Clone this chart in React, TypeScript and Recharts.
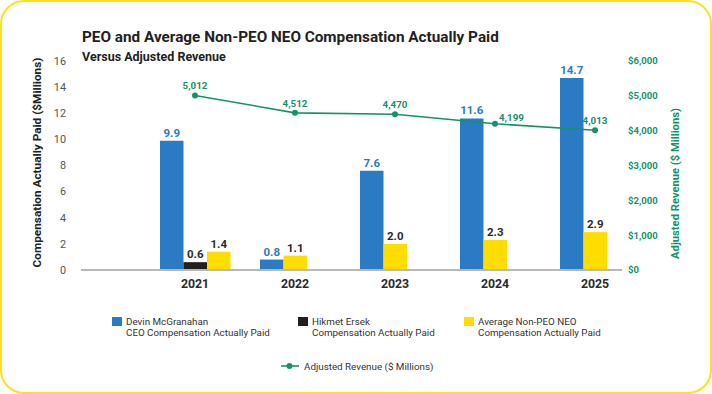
import React from 'react';
import { ComposedChart, Bar, Line, XAxis, YAxis, Cell, LabelList, Label } from 'recharts';

const years = ['2021', '2022', '2023', '2024', '2025'];
const ceoCap = [9.9, 0.8, 7.6, 11.6, 14.7];
const ersekCap: (number | null)[] = [0.6, null, null, null, null];
const neoCap = [1.4, 1.1, 2.0, 2.3, 2.9];
const revenue = [5012, 4512, 4470, 4199, 4013];
const leftTicks = [0, 2, 4, 6, 8, 10, 12, 14, 16];
const rightTicks = [0, 1000, 2000, 3000, 4000, 5000, 6000];

const BLUE = '#2a7bc4';
const BLACK = '#231f20';
const YELLOW = '#ffdd00';
const GREEN = '#14936a';
const FONT = 'Roboto, "Noto Sans", sans-serif';

// line label nudges (style only)
const revLabelDx = [0, 0, 0, 4, 0];
const revLabelDy = [-6, -6, -6, -3, -6];

const data = years.map((y, i) => ({
  year: y,
  ceo: ceoCap[i],
  mid: ersekCap[i] != null ? ersekCap[i] : neoCap[i],
  midIsErsek: ersekCap[i] != null,
  right: ersekCap[i] != null ? neoCap[i] : null,
  revenue: revenue[i],
}));

const fmt1 = (v: any) => (v == null ? '' : Number(v).toFixed(1));

const RevLabel = (props: any) => {
  const { x, y, value, index } = props;
  if (value == null) return null;
  const dx = revLabelDx[index] || 0;
  const dy = revLabelDy[index] || -6;
  return (
    <text
      x={x + dx}
      y={y + dy}
      textAnchor={dx ? 'start' : 'middle'}
      fill={GREEN}
      fontSize={9.8}
      fontWeight={700}
      fontFamily={FONT}
    >
      {Number(value).toLocaleString('en-US')}
    </text>
  );
};

const legendBars = [
  { color: BLUE, lines: ['Devin McGranahan', 'CEO Compensation Actually Paid'], left: 112 },
  { color: BLACK, lines: ['Hikmet Ersek', 'Compensation Actually Paid'], left: 298 },
  { color: YELLOW, lines: ['Average Non-PEO NEO', 'Compensation Actually Paid'], left: 464 },
];

const AxisTitle = ({ cx, cy, text, color, size }: any) => (
  <text
    x={cx}
    y={cy}
    transform={`rotate(-90 ${cx} ${cy})`}
    textAnchor="middle"
    dominantBaseline="central"
    fill={color}
    fontSize={size}
    fontWeight={700}
    fontFamily={FONT}
  >
    {text}
  </text>
);

export default function App() {
  return (
    <div style={{ position: 'absolute', left: 0, top: 0, width: 712, height: 394, background: '#fff', fontFamily: FONT }}>
      <ComposedChart
        width={712}
        height={394}
        data={data}
        margin={{ top: 61, right: 30, bottom: 94, left: 0 }}
        barGap={0}
        barSize={23.5}
      >
        <XAxis
          dataKey="year"
          axisLine={{ stroke: '#b8b8b8', strokeWidth: 2 }}
          tickLine={false}
          tickSize={0}
          tickMargin={9}
          height={30}
          padding={{ left: 64, right: -23 }}
          tick={{ fill: '#2b2b2b', fontSize: 12.3, fontWeight: 700, fontFamily: FONT }}
        />
        <YAxis
          yAxisId="left"
          domain={[0, 16]}
          ticks={leftTicks}
          width={81}
          axisLine={false}
          tickLine={false}
          tickSize={0}
          tickMargin={15}
          interval={0}
          tick={{ fill: '#555', fontSize: 10.8, fontFamily: FONT }}
        >
          <Label
            content={(p: any) => (
              <AxisTitle
                cx={37}
                cy={p.viewBox.y + p.viewBox.height / 2 - 3}
                text="Compensation Actually Paid ($Millions)"
                color="#222"
                size={11.8}
              />
            )}
          />
        </YAxis>
        <YAxis
          yAxisId="right"
          orientation="right"
          domain={[0, 6000]}
          ticks={rightTicks}
          width={60}
          axisLine={false}
          tickLine={false}
          tickSize={0}
          tickMargin={6}
          interval={0}
          tickFormatter={(v: number) => '$' + v.toLocaleString('en-US')}
          tick={{ fill: GREEN, fontSize: 9.5, fontWeight: 700, fontFamily: FONT }}
        >
          <Label
            content={(p: any) => (
              <AxisTitle
                cx={675}
                cy={p.viewBox.y + p.viewBox.height / 2 + 18}
                text="Adjusted Revenue ($ Millions)"
                color={GREEN}
                size={11.2}
              />
            )}
          />
        </YAxis>
        <Bar yAxisId="left" dataKey="ceo" fill={BLUE} isAnimationActive={false}>
          <LabelList
            dataKey="ceo"
            position="top"
            offset={4}
            formatter={fmt1}
            fill={BLUE}
            fontSize={11.5}
            fontWeight={700}
            fontFamily={FONT}
          />
        </Bar>
        <Bar yAxisId="left" dataKey="mid" isAnimationActive={false}>
          {data.map((d, i) => (
            <Cell key={i} fill={d.midIsErsek ? BLACK : YELLOW} />
          ))}
          <LabelList
            dataKey="mid"
            position="top"
            offset={4}
            formatter={fmt1}
            fill="#2b2b2b"
            fontSize={11.5}
            fontWeight={700}
            fontFamily={FONT}
          />
        </Bar>
        <Bar yAxisId="left" dataKey="right" fill={YELLOW} isAnimationActive={false}>
          <LabelList
            dataKey="right"
            position="top"
            offset={4}
            formatter={fmt1}
            fill="#2b2b2b"
            fontSize={11.5}
            fontWeight={700}
            fontFamily={FONT}
          />
        </Bar>
        <Line
          yAxisId="right"
          dataKey="revenue"
          stroke={GREEN}
          strokeWidth={1.6}
          dot={{ r: 3, fill: GREEN, stroke: GREEN, strokeWidth: 0 }}
          activeDot={false}
          isAnimationActive={false}
        >
          <LabelList dataKey="revenue" content={RevLabel} />
        </Line>
      </ComposedChart>

      <div style={{ position: 'absolute', left: 82, top: 28, fontSize: 15.3, fontWeight: 700, color: '#222', whiteSpace: 'nowrap', lineHeight: '18px' }}>
        PEO and Average Non-PEO NEO Compensation Actually Paid
      </div>
      <div style={{ position: 'absolute', left: 82, top: 49, fontSize: 12.5, fontWeight: 700, color: '#222', whiteSpace: 'nowrap', lineHeight: '15px' }}>
        Versus Adjusted Revenue
      </div>

      {legendBars.map((item) => (
        <div key={item.lines[0]} style={{ position: 'absolute', left: item.left, top: 316 }}>
          <div style={{ position: 'absolute', left: 0, top: 1, width: 10, height: 9, background: item.color }} />
          <div style={{ position: 'absolute', left: 14, top: 0, fontSize: 9.8, lineHeight: '11px', color: '#333', whiteSpace: 'nowrap' }}>
            {item.lines[0]}
            <br />
            {item.lines[1]}
          </div>
        </div>
      ))}
      <div style={{ position: 'absolute', left: 281, top: 360 }}>
        <svg width={19} height={12} style={{ position: 'absolute', left: 0, top: 0 }}>
          <line x1={0} y1={6} x2={18} y2={6} stroke={GREEN} strokeWidth={1.6} />
          <circle cx={8.5} cy={6} r={3} fill={GREEN} />
        </svg>
        <div style={{ position: 'absolute', left: 23, top: 0.5, fontSize: 9.8, lineHeight: '11px', color: '#333', whiteSpace: 'nowrap' }}>
          Adjusted Revenue ($ Millions)
        </div>
      </div>

      <div
        style={{
          position: 'absolute',
          left: 0,
          top: 0,
          width: 712,
          height: 394,
          boxSizing: 'border-box',
          border: '2px solid #ffe01a',
          borderRadius: 24,
          pointerEvents: 'none',
        }}
      />
    </div>
  );
}
